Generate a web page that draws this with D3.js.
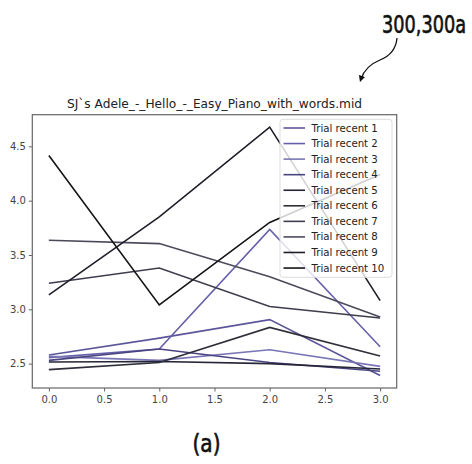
<!DOCTYPE html>
<html>
<head>
<meta charset="utf-8">
<script src="https://cdn.jsdelivr.net/npm/d3@7"></script>
<style>
  body { margin: 0; background: #fff; }
  #chart { width: 472px; height: 464px; }
  svg { overflow: visible; }
  .axis text { font-family: "DejaVu Sans", sans-serif; font-size: 10px; fill: #444; }
  .axis path, .axis line { stroke: #666; }
</style>
</head>
<body>
<div id="chart"></div>
<script>
const steps = [0, 1, 2, 3];
const trialNames = ["Trial recent 1", "Trial recent 2", "Trial recent 3", "Trial recent 4", "Trial recent 5",
  "Trial recent 6", "Trial recent 7", "Trial recent 8", "Trial recent 9", "Trial recent 10"];
const trial1 = [2.58, 2.735, 2.905, 2.39];
const trial2 = [2.555, 2.635, 3.735, 2.655];
const trial3 = [2.567, 2.53, 2.628, 2.475];
const trial4 = [2.53, 2.635, 2.51, 2.43];
const trial5 = [2.515, 2.52, 2.5, 2.45];
const trial6 = [2.445, 2.51, 2.833, 2.57];
const trial7 = [3.24, 3.38, 3.026, 2.92];
const trial8 = [3.635, 3.605, 3.3, 2.93];
const trial9 = [3.133, 3.85, 4.677, 3.08];
const trial10 = [4.415, 3.04, 3.8, 4.24];
const trialColors = ["#5b5599", "#6660aa", "#7a76b6", "#4a4580", "#262638",
  "#2e2e3a", "#3d3d4d", "#4a4a5a", "#1e1e28", "#141418"];
const xTicks = [0, 0.5, 1, 1.5, 2, 2.5, 3];
const yTicks = [2.5, 3.0, 3.5, 4.0, 4.5];
const title = "SJ`s Adele_-_Hello_-_Easy_Piano_with_words.mid";

const trials = [trial1, trial2, trial3, trial4, trial5, trial6, trial7, trial8, trial9, trial10];

const width = 472, height = 464;
const margin = { left: 32.3, right: 75.3, top: 114.7, bottom: 76 };
const innerWidth = width - margin.left - margin.right;
const innerHeight = height - margin.top - margin.bottom;

const svg = d3.select("#chart").append("svg")
  .attr("width", width).attr("height", height);

// annotation label and arrow
svg.append("text")
  .attr("x", 382).attr("y", 33)
  .attr("textLength", 84).attr("lengthAdjust", "spacingAndGlyphs")
  .attr("font-family", "DejaVu Sans Condensed, DejaVu Sans")
  .attr("font-size", 25).attr("fill", "#111")
  .attr("stroke", "#111").attr("stroke-width", 0.6)
  .text("300,300a");

svg.append("defs").append("marker")
  .attr("id", "head").attr("viewBox", "0 0 10 10")
  .attr("refX", 5).attr("refY", 5)
  .attr("markerWidth", 5).attr("markerHeight", 5)
  .attr("orient", "auto")
  .append("path").attr("d", "M0,0 L10,5 L0,10 z").attr("fill", "#111");

svg.append("path")
  .attr("d", "M397,38 C396,50 390,56 380,60 C370,64 364,70 361,79")
  .attr("fill", "none").attr("stroke", "#111").attr("stroke-width", 1.3)
  .attr("marker-end", "url(#head)");

svg.append("text")
  .attr("x", 206.5).attr("y", 452)
  .attr("text-anchor", "middle")
  .attr("textLength", 28).attr("lengthAdjust", "spacingAndGlyphs")
  .attr("font-family", "DejaVu Sans Condensed, DejaVu Sans")
  .attr("font-size", 25).attr("fill", "#111")
  .attr("stroke", "#111").attr("stroke-width", 0.6)
  .text("(a)");

const mainGroup = svg.append("g")
  .attr("transform", `translate(${margin.left},${margin.top})`);

const allValues = trials.flat();
const yMin = d3.min(allValues), yMax = d3.max(allValues);
const yPad = (yMax - yMin) * 0.05;
const xPad = (d3.max(steps) - d3.min(steps)) * 0.05;

const xScale = d3.scaleLinear()
  .domain([d3.min(steps) - xPad, d3.max(steps) + xPad])
  .range([0, innerWidth]);
const yScale = d3.scaleLinear()
  .domain([yMin - yPad, yMax + yPad])
  .range([innerHeight, 0]);

mainGroup.append("g")
  .attr("class", "axis")
  .attr("transform", `translate(0,${innerHeight})`)
  .call(d3.axisBottom(xScale).tickValues(xTicks).tickFormat(d3.format(".1f")).tickSize(3.5).tickPadding(4))
  .call(g => g.select(".domain").remove());

mainGroup.append("g")
  .attr("class", "axis")
  .call(d3.axisLeft(yScale).tickValues(yTicks).tickFormat(d3.format(".1f")).tickSize(3.5).tickPadding(3))
  .call(g => g.select(".domain").remove());

const line = d3.line()
  .x((d, i) => xScale(steps[i]))
  .y(d => yScale(d));

mainGroup.selectAll(".trial")
  .data(trials)
  .join("path")
  .attr("class", "trial")
  .attr("d", d => line(d))
  .attr("fill", "none")
  .attr("stroke", (d, i) => trialColors[i])
  .attr("stroke-width", 1.6);

// frame
mainGroup.append("rect")
  .attr("width", innerWidth).attr("height", innerHeight)
  .attr("fill", "none").attr("stroke", "#666").attr("stroke-width", 1.2);

mainGroup.append("text")
  .attr("x", innerWidth / 2).attr("y", -7)
  .attr("text-anchor", "middle")
  .attr("font-family", "DejaVu Sans, sans-serif")
  .attr("font-size", 12.2).attr("fill", "#222")
  .text(title);

// legend
const legend = mainGroup.append("g")
  .attr("transform", `translate(${280 - margin.left},${119.3 - margin.top})`);

legend.append("rect")
  .attr("width", 112).attr("height", 158).attr("rx", 3)
  .attr("fill", "#fff").attr("fill-opacity", 0.8)
  .attr("stroke", "#ddd").attr("stroke-width", 1);

const rows = legend.selectAll(".row")
  .data(trialNames)
  .join("g")
  .attr("class", "row")
  .attr("transform", (d, i) => `translate(0,${8.7 + i * 15.56})`);

rows.append("line")
  .attr("x1", 3.5).attr("x2", 25)
  .attr("stroke", (d, i) => trialColors[i]).attr("stroke-width", 1.6);

rows.append("text")
  .attr("x", 31.5).attr("dy", "0.35em")
  .attr("font-family", "DejaVu Sans, sans-serif")
  .attr("font-size", 10.2).attr("fill", "#222")
  .text(d => d);
</script>
</body>
</html>
